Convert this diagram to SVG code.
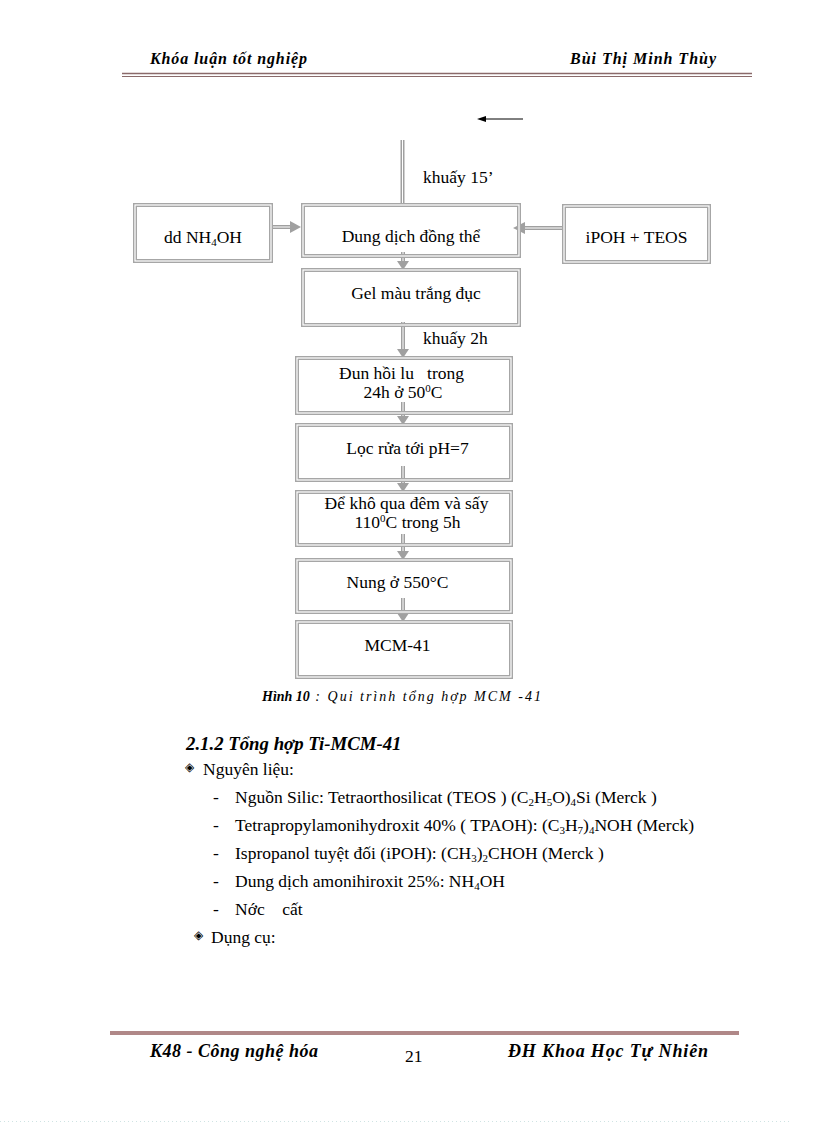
<svg xmlns="http://www.w3.org/2000/svg" width="816" height="1123" viewBox="0 0 816 1123">
<defs>
<style>
.t{font-family:"Liberation Serif","Times New Roman",serif;font-size:17.5px;fill:#000;white-space:pre}
.bi{font-family:"Liberation Serif","Times New Roman",serif;font-weight:bold;font-style:italic;fill:#000}
.it{font-family:"Liberation Serif","Times New Roman",serif;font-style:italic;fill:#000}
.bo{fill:none;stroke:#a6a6a6;stroke-width:4}
.bi2{fill:none;stroke:#fff;stroke-width:1.2}
.sh{fill:none;stroke:#a0a0a0;stroke-width:4}
.sw{fill:none;stroke:#fff;stroke-width:1}
.ah{fill:#a0a0a0}
.dm{font-family:"DejaVu Sans",sans-serif;font-size:12px;fill:#000}
</style>
</defs>
<rect width="816" height="1123" fill="#fff"/>
<g id="header">
<text class="bi" x="150" y="64" font-size="16" textLength="157">Khóa luận tốt nghiệp</text>
<text class="bi" x="570" y="64" font-size="16" textLength="146">Bùi Thị Minh Thùy</text>
<line x1="122" y1="73.5" x2="752" y2="73.5" stroke="#8a6a6a" stroke-width="1.5"/>
<line x1="122" y1="76.5" x2="752" y2="76.5" stroke="#8a6a6a" stroke-width="1"/>
</g>
<g id="connectors">
<line x1="523" y1="119" x2="484" y2="119" stroke="#000" stroke-width="1"/>
<path d="M477,119 L486,116 L486,122 Z" fill="#000"/>
<line class="sh" x1="402.5" y1="140" x2="402.5" y2="205"/>
<line class="sw" x1="402.5" y1="140" x2="402.5" y2="205"/>
<line class="sh" x1="272" y1="227" x2="292" y2="227"/>
<line class="sw" x1="272" y1="227" x2="292" y2="227"/>
<path class="ah" d="M301,227 L290,221 L290,233 Z"/>
<line class="sh" x1="562" y1="228" x2="523" y2="228"/>
<line class="sw" x1="562" y1="228" x2="523" y2="228"/>
<path class="ah" d="M513,228 L525,222 L525,234 Z"/>
<line class="sh" x1="403" y1="252" x2="403" y2="262"/><line class="sw" x1="403" y1="252" x2="403" y2="262"/>
<path class="ah" d="M403,270 L397,261 L409,261 Z"/>
<line class="sh" x1="403" y1="322" x2="403" y2="349"/><line class="sw" x1="403" y1="322" x2="403" y2="349"/>
<path class="ah" d="M403,358 L397,349 L409,349 Z"/>
<line class="sh" x1="403" y1="402" x2="403" y2="416"/><line class="sw" x1="403" y1="402" x2="403" y2="416"/>
<path class="ah" d="M403,425 L397,416 L409,416 Z"/>
<line class="sh" x1="403" y1="466" x2="403" y2="483"/><line class="sw" x1="403" y1="466" x2="403" y2="483"/>
<path class="ah" d="M403,492 L397,483 L409,483 Z"/>
<line class="sh" x1="403" y1="534" x2="403" y2="551"/><line class="sw" x1="403" y1="534" x2="403" y2="551"/>
<path class="ah" d="M403,560 L397,551 L409,551 Z"/>
<line class="sh" x1="403" y1="598" x2="403" y2="613"/><line class="sw" x1="403" y1="598" x2="403" y2="613"/>
<path class="ah" d="M403,622 L397,613 L409,613 Z"/>
</g>
<text class="t" x="423" y="183">khuấy 15’</text>
<text class="t" x="423" y="344">khuấy 2h</text>
<g id="n-nh4oh">
<rect class="bo" x="135" y="205" width="136" height="56"/><rect class="bi2" x="135" y="205" width="136" height="56"/>
<text class="t" x="164" y="243">dd NH<tspan font-size="11" dy="3">4</tspan><tspan dy="-3">OH</tspan></text>
</g>
<g id="n-dungdich">
<rect class="bo" x="303" y="205" width="216" height="51"/><rect class="bi2" x="303" y="205" width="216" height="51"/>
<text class="t" x="411" y="242" text-anchor="middle">Dung dịch đồng thể</text>
</g>
<g id="n-ipoh">
<rect class="bo" x="564" y="206" width="145" height="56"/><rect class="bi2" x="564" y="206" width="145" height="56"/>
<text class="t" x="636.5" y="243" text-anchor="middle">iPOH + TEOS</text>
</g>
<g id="n-gel">
<rect class="bo" x="303" y="270" width="216" height="55"/><rect class="bi2" x="303" y="270" width="216" height="55"/>
<text class="t" x="416" y="299" text-anchor="middle">Gel màu trắng đục</text>
</g>
<g id="n-dun">
<rect class="bo" x="297" y="358" width="214" height="55"/><rect class="bi2" x="297" y="358" width="214" height="55"/>
<text class="t" x="401.5" y="379" text-anchor="middle">Đun hồi lu   trong</text>
<text class="t" x="403" y="398" text-anchor="middle">24h ở 50<tspan font-size="11" dy="-6">0</tspan><tspan dy="6">C</tspan></text>
</g>
<g id="n-loc">
<rect class="bo" x="297" y="425" width="214" height="55"/><rect class="bi2" x="297" y="425" width="214" height="55"/>
<text class="t" x="407.5" y="454" text-anchor="middle">Lọc rửa tới pH=7</text>
</g>
<g id="n-dekho">
<rect class="bo" x="297" y="492" width="214" height="53"/><rect class="bi2" x="297" y="492" width="214" height="53"/>
<text class="t" x="406.5" y="509" text-anchor="middle">Để khô qua đêm và sấy</text>
<text class="t" x="407.5" y="528" text-anchor="middle">110<tspan font-size="11" dy="-6">0</tspan><tspan dy="6">C trong 5h</tspan></text>
</g>
<g id="n-nung">
<rect class="bo" x="297" y="560" width="214" height="52"/><rect class="bi2" x="297" y="560" width="214" height="52"/>
<text class="t" x="397.5" y="588" text-anchor="middle">Nung ở 550°C</text>
</g>
<g id="n-mcm">
<rect class="bo" x="297" y="622" width="214" height="55"/><rect class="bi2" x="297" y="622" width="214" height="55"/>
<text class="t" x="397.5" y="651" text-anchor="middle">MCM-41</text>
</g>
<g id="body">
<text x="262" y="701" font-size="14"><tspan class="bi">Hình 10</tspan><tspan class="it" letter-spacing="2"> : Qui trình tổng hợp MCM -41</tspan></text>
<text class="bi" x="186" y="750" font-size="18.8">2.1.2 Tổng hợp Ti-MCM-41</text>
<text class="dm" x="185" y="771">◈</text>
<text class="t" x="203" y="775">Nguyên liệu:</text>
<text class="t" x="213" y="803">-</text>
<text class="t" x="235" y="803">Nguồn Silic: Tetraorthosilicat (TEOS ) (C<tspan font-size="11" dy="3">2</tspan><tspan dy="-3">H</tspan><tspan font-size="11" dy="3">5</tspan><tspan dy="-3">O)</tspan><tspan font-size="11" dy="3">4</tspan><tspan dy="-3">Si (Merck )</tspan></text>
<text class="t" x="213" y="831">-</text>
<text class="t" x="235" y="831">Tetrapropylamonihydroxit 40% ( TPAOH): (C<tspan font-size="11" dy="3">3</tspan><tspan dy="-3">H</tspan><tspan font-size="11" dy="3">7</tspan><tspan dy="-3">)</tspan><tspan font-size="11" dy="3">4</tspan><tspan dy="-3">NOH (Merck)</tspan></text>
<text class="t" x="213" y="859">-</text>
<text class="t" x="235" y="859">Ispropanol tuyệt đối (iPOH): (CH<tspan font-size="11" dy="3">3</tspan><tspan dy="-3">)</tspan><tspan font-size="11" dy="3">2</tspan><tspan dy="-3">CHOH (Merck )</tspan></text>
<text class="t" x="213" y="887">-</text>
<text class="t" x="235" y="887">Dung dịch amonihiroxit 25%: NH<tspan font-size="11" dy="3">4</tspan><tspan dy="-3">OH</tspan></text>
<text class="t" x="213" y="915">-</text>
<text class="t" x="235" y="915">Nớc    cất</text>
<text class="dm" x="194" y="939">◈</text>
<text class="t" x="211" y="943">Dụng cụ:</text>
</g>
<g id="footer">
<line x1="110" y1="1033" x2="739" y2="1033" stroke="#b08888" stroke-width="4"/>
<text class="bi" x="150" y="1057" font-size="18" textLength="168">K48 - Công nghệ hóa</text>
<text class="t" x="405" y="1062" font-size="18">21</text>
<text class="bi" x="508" y="1057" font-size="18" textLength="200">ĐH Khoa Học Tự Nhiên</text>
<line x1="0" y1="1121.5" x2="790" y2="1121.5" stroke="#cfe3e3" stroke-width="1" stroke-dasharray="1,3"/>
</g>
</svg>
